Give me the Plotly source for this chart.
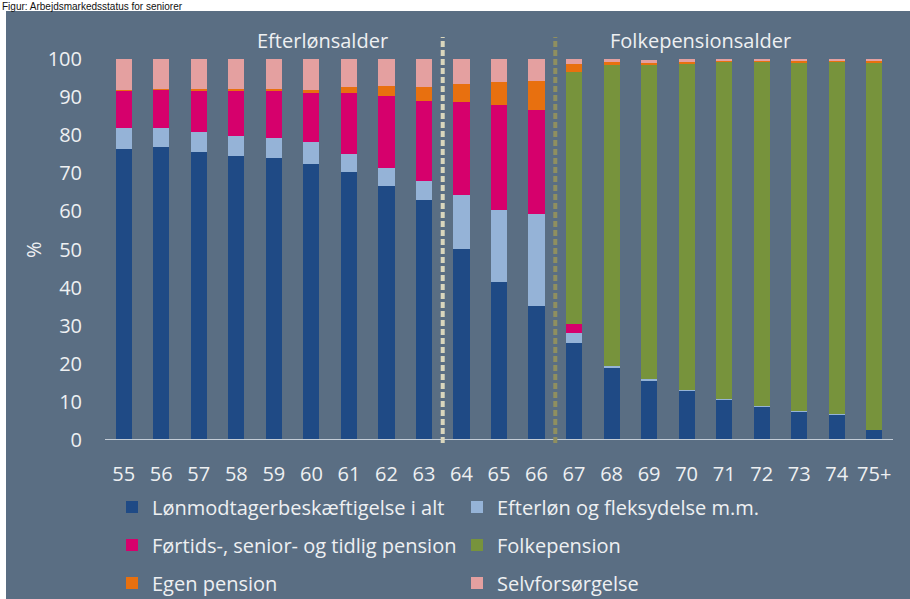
import plotly.graph_objects as go

ages = ["55", "56", "57", "58", "59", "60", "61", "62", "63", "64", "65",
        "66", "67", "68", "69", "70", "71", "72", "73", "74", "75+"]

loenmodtager = [76.5, 77.0, 75.5, 74.5, 74.0, 72.5, 70.3, 66.7, 63.0, 50.1, 41.4,
                35.3, 25.4, 19.0, 15.7, 12.9, 10.7, 8.9, 7.4, 6.6, 2.6]
efterloen = [5.5, 5.0, 5.3, 5.3, 5.2, 5.6, 4.8, 4.6, 5.1, 14.3, 18.9,
             24.0, 2.6, 0.3, 0.3, 0.3, 0.1, 0.1, 0.3, 0.1, 0.0]
foertids = [9.8, 10.0, 11.0, 12.0, 12.5, 12.9, 16.0, 19.1, 21.0, 24.3, 27.7,
            27.3, 2.4, 0.0, 0.0, 0.0, 0.0, 0.0, 0.0, 0.0, 0.0]
folkepension = [0.0, 0.0, 0.0, 0.0, 0.0, 0.0, 0.0, 0.0, 0.0, 0.0, 0.0,
                0.0, 66.1, 79.1, 82.4, 85.5, 88.5, 90.3, 91.5, 92.6, 96.6]
egen_pension = [0.2, 0.2, 0.3, 0.3, 0.4, 1.0, 1.5, 2.4, 3.6, 4.8, 6.1,
                7.7, 2.2, 0.7, 0.8, 0.5, 0.2, 0.2, 0.3, 0.2, 0.3]
selvforsoergelse = [8.0, 7.8, 7.9, 7.9, 7.9, 8.0, 7.4, 7.2, 7.3, 6.5, 5.9,
                    5.7, 1.3, 0.9, 0.5, 0.8, 0.5, 0.4, 0.5, 0.5, 0.5]

series_names = ["Lønmodtagerbeskæftigelse i alt", "Efterløn og fleksydelse m.m.",
                "Førtids-, senior- og tidlig pension", "Folkepension",
                "Egen pension", "Selvforsørgelse"]
series_values = [loenmodtager, efterloen, foertids, folkepension, egen_pension, selvforsoergelse]
series_colors = ["#1f4a85", "#95b3d7", "#d6006c", "#77933c", "#e8700f", "#e4a0a0"]

y_ticks = [0, 10, 20, 30, 40, 50, 60, 70, 80, 90, 100]
section_labels = ["Efterlønsalder", "Folkepensionsalder"]
title_text = "Figur: Arbejdsmarkedsstatus for seniorer"

W, H = 910, 599
ML, MR, MT, MB = 105, 17, 40, 159
PW, PH = W - ML - MR, H - MT - MB
BG = "#5a6e83"
TXT = "#eef0f2"
FONT = "'Open Sans', Lato, sans-serif"


def px_x(x):
    return (x - ML) / PW


def px_y(y):
    return (H - MB - y) / PH


fig = go.Figure()

# legend slots (pixel position of each entry's text start, row centre)
legend_pos = [(152, 507), (497, 507), (152, 545), (497, 545), (152, 583), (497, 583)]
legend_ids = ["legend", "legend2", "legend3", "legend4", "legend5", "legend6"]

for name, vals, col, lid in zip(series_names, series_values, series_colors, legend_ids):
    fig.add_trace(go.Bar(
        x=ages, y=vals, name=name, marker=dict(color=col, line=dict(width=0)),
        width=0.43, legend=lid,
    ))

layout_legends = {}
for lid, (tx, ty) in zip(legend_ids, legend_pos):
    layout_legends[lid] = dict(
        x=px_x(tx - 40), y=px_y(ty), xanchor="left", yanchor="middle",
        orientation="h", bgcolor="rgba(0,0,0,0)", borderwidth=0,
        font=dict(family=FONT, size=20, color=TXT),
        itemclick=False, itemdoubleclick=False,
    )

PANEL_TOP = 11
shapes = [
    # panel background (white strip on top and left)
    dict(type="rect", xref="paper", yref="paper",
         x0=px_x(6), x1=px_x(W + 5), y0=px_y(H + 5), y1=px_y(PANEL_TOP),
         fillcolor=BG, line=dict(width=0), layer="below"),
    # baseline axis
    dict(type="line", xref="paper", yref="y", x0=0, x1=1, y0=0, y1=0,
         line=dict(color="#c3ccd6", width=2), layer="above"),
    # dashed separators
    dict(type="line", xref="x", yref="paper", x0=8.5, x1=8.5, y0=px_y(443), y1=px_y(37),
         line=dict(color="#d9d6bd", width=4, dash="6px,3px"), layer="above"),
    dict(type="line", xref="x", yref="paper", x0=11.5, x1=11.5, y0=px_y(443), y1=px_y(37),
         line=dict(color="#8f8f60", width=4, dash="6px,3px"), layer="above"),
]

annotations = [
    dict(text=section_labels[0], xref="paper", yref="paper", x=px_x(322), y=px_y(40),
         xanchor="center", yanchor="middle", showarrow=False,
         font=dict(family=FONT, size=20, color=TXT)),
    dict(text=section_labels[1], xref="paper", yref="paper", x=px_x(700), y=px_y(40),
         xanchor="center", yanchor="middle", showarrow=False,
         font=dict(family=FONT, size=20, color=TXT)),
    dict(text="%", xref="paper", yref="paper", x=px_x(33), y=px_y(250),
         xanchor="center", yanchor="middle", showarrow=False, textangle=-90,
         font=dict(family=FONT, size=20, color=TXT)),
    dict(text=title_text, xref="paper", yref="paper", x=px_x(1), y=px_y(0),
         xanchor="left", yanchor="top", showarrow=False, borderpad=0,
         font=dict(family="Liberation Sans, Arial, sans-serif", size=10, color="#111111")),
]

fig.update_layout(
    width=W, height=H,
    margin=dict(l=ML, r=MR, t=MT, b=MB, pad=0, autoexpand=False),
    paper_bgcolor="white", plot_bgcolor="rgba(0,0,0,0)",
    barmode="stack", bargap=0.57,
    showlegend=True,
    shapes=shapes, annotations=annotations,
    xaxis=dict(type="category", range=[-0.5, 20.5], showgrid=False, showline=False,
               zeroline=False, ticks="", ticklabelstandoff=20,
               tickfont=dict(family=FONT, size=20, color=TXT)),
    yaxis=dict(range=[0, 105], tickvals=y_ticks, showgrid=False, showline=False,
               zeroline=False, ticks="", ticklabelstandoff=22,
               tickfont=dict(family=FONT, size=20, color=TXT)),
    **layout_legends,
)

fig.write_html("out.html", config={"displayModeBar": False},
               post_script="document.body.style.margin='0px';")
